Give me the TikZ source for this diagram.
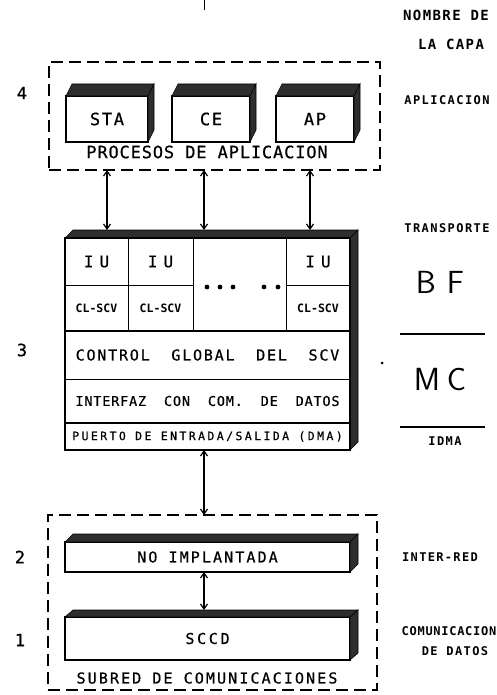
\documentclass[tikz,border=0pt]{standalone}
\usepackage{fontspec}
\usetikzlibrary{arrows.meta,calc}
\newfontfamily\pf{DejaVu Sans Mono}
\newcommand\tx[3]{{\pf\fontsize{#1}{#1}\selectfont\addfontfeatures{LetterSpace=#2,FakeBold=0.6}#3}}
\newcommand\tb[3]{{\pf\bfseries\fontsize{#1}{#1}\selectfont\addfontfeatures{LetterSpace=#2}#3}}
\newcommand\slab[3]{%
  \filldraw[face] (#1.north west) -- ++(#2,-#3) -- ($(#1.north east)+(#2,-#3)$) -- (#1.north east) -- cycle;
  \filldraw[face] (#1.north east) -- ++(#2,-#3) -- ($(#1.south east)+(#2,-#3)$) -- (#1.south east) -- cycle;}
\begin{document}
\begin{tikzpicture}[x=1pt,y=-1pt,
  dashbox/.style={draw, line width=1.3pt, dash pattern=on 12pt off 6pt, inner sep=0pt, outer sep=0pt},
  front/.style={draw, line width=1.2pt, fill=white, inner sep=0pt, outer sep=0pt},
  cell/.style={draw, line width=0.9pt, inner sep=0pt, outer sep=0pt},
  face/.style={fill=black!82, draw=black, line width=0.6pt},
  biarrow/.style={{Straight Barb[length=5pt,width=7pt]}-{Straight Barb[length=5pt,width=7pt]}, line width=1.2pt},
  dot/.style={circle, fill=black, inner sep=0pt, minimum size=4.8pt},
  rule/.style={line width=1.2pt}]
\useasboundingbox (0,0) rectangle (496,695);

% stray tick at the top
\coordinate (tk1) at (204,0);
\coordinate (tk2) at (204,10);
\draw[line width=1pt] (tk1) -- (tk2);

% header
\node (hdr1) at (446,15) {\tb{14}{10}{NOMBRE DE}};
\node (hdr2) at (451,44) {\tb{14}{10}{LA CAPA}};

% layer 4
\node[dashbox, minimum width=331pt, minimum height=108pt] (app) at (214.5,116) {};
\node[front, minimum width=82pt, minimum height=46pt] (sta) at (107,119) {\tx{17}{10}{STA}};
\node[front, minimum width=78pt, minimum height=46pt] (ce) at (211,119) {\tx{17}{10}{CE}};
\node[front, minimum width=78pt, minimum height=46pt] (ap) at (315,119) {\tx{17}{10}{AP}};
\slab{sta}{6}{12}
\slab{ce}{6}{12}
\slab{ap}{6}{12}
\node (papp) at (207,152) {\tx{17}{5}{PROCESOS DE APLICACION}};
\node (n4) at (22,93) {\tx{17}{0}{4}};
\node (l4) at (447,100) {\tb{12}{12}{APLICACION}};

% layer 3 block
\node[front, minimum width=285pt, minimum height=212pt, line width=1.5pt] (blk) at (207.5,344) {};
\slab{blk}{8}{8}
\node[cell, minimum width=63pt, minimum height=47pt] (iu1) at (96.5,261.5) {\tx{16}{0}{I\hspace{6pt}U}};
\node[cell, minimum width=65pt, minimum height=47pt] (iu2) at (160.5,261.5) {\tx{16}{0}{I\hspace{6pt}U}};
\node[cell, minimum width=64pt, minimum height=47pt] (iu4) at (318,261.5) {\tx{16}{0}{I\hspace{6pt}U}};
\node[cell, minimum width=63pt, minimum height=46pt] (cl1) at (96.5,308) {\tb{11.5}{0}{CL-SCV}};
\node[cell, minimum width=65pt, minimum height=46pt] (cl2) at (160.5,308) {\tb{11.5}{0}{CL-SCV}};
\node[cell, minimum width=64pt, minimum height=46pt] (cl4) at (318,308) {\tb{11.5}{0}{CL-SCV}};
\node[cell, minimum width=93pt, minimum height=93pt] (dc) at (239.5,284.5) {};
\node[dot] (d1) at (207,287) {};
\node[dot] (d2) at (220,287) {};
\node[dot] (d3) at (233,287) {};
\node[dot] (d4) at (264,287) {};
\node[dot] (d5) at (278,287) {};
\node[cell, minimum width=285pt, minimum height=48pt] (cg) at (207.5,355) {\tx{15}{12}{CONTROL\ \ GLOBAL\ \ DEL\ \ SCV}};
\node[cell, minimum width=285pt, minimum height=44pt] (ifz) at (207.5,401) {\tx{13.5}{6}{INTERFAZ\ \ CON\ \ COM.\ \ DE\ \ DATOS}};
\node[cell, minimum width=285pt, minimum height=27pt] (pu) at (207.5,436.5) {\tx{11.5}{21}{PUERTO DE ENTRADA/SALIDA (DMA)}};
\draw[line width=2.6pt] (cg.north west) -- (cg.north east);
\draw[line width=2.6pt] (pu.north west) -- (pu.north east);
\draw[line width=1.5pt] (blk.north west) rectangle (blk.south east);
\node (n3) at (22,350) {\tx{17}{0}{3}};
\node (l3) at (447,228) {\tb{12}{12}{TRANSPORTE}};

% arrows layer 4 <-> 3
\coordinate (t1) at (107,230);
\coordinate (t2) at (204,230);
\coordinate (t3) at (310,230);
\draw[biarrow] (app.south -| t1) -- (t1);
\draw[biarrow] (app.south -| t2) -- (t2);
\draw[biarrow] (app.south -| t3) -- (t3);

% right side BF / MC
\node (bf) at (440,282) {\fontsize{32}{32}\selectfont\sffamily B\hspace{11pt}F};
\coordinate (r1a) at (400,334);
\coordinate (r1b) at (485,334);
\draw[rule] (r1a) -- (r1b);
\node (mc) at (440,380) {\fontsize{32}{32}\selectfont\sffamily M\hspace{7pt}C};
\coordinate (r2a) at (400,427);
\coordinate (r2b) at (485,427);
\draw[rule] (r2a) -- (r2b);
\node (idma) at (445,441) {\tb{12}{12}{IDMA}};
\node[circle, fill=black, inner sep=0pt, minimum size=3pt] (spk) at (382,363) {};

% layers 2 and 1
\node[dashbox, minimum width=329pt, minimum height=175pt] (sub) at (212.5,602.5) {};
\coordinate (t5) at (204,515);
\draw[biarrow] (blk.south -| t5) -- (t5);
\node[front, minimum width=285pt, minimum height=30pt] (noimp) at (207.5,557) {\tx{15}{14}{NO IMPLANTADA}};
\slab{noimp}{8}{8}
\node[front, minimum width=285pt, minimum height=43pt] (sccd) at (207.5,638.5) {\tx{15}{18}{SCCD}};
\slab{sccd}{8}{7}
\coordinate (t6) at (204,610);
\draw[biarrow] (noimp.south -| t6) -- (t6);
\node (subt) at (207,678) {\tx{15}{14}{SUBRED DE COMUNICACIONES}};
\node (n2) at (20,557) {\tx{17}{0}{2}};
\node (n1) at (20,640) {\tx{17}{0}{1}};
\node (l2) at (440,557) {\tb{12}{11}{INTER-RED}};
\node (l1a) at (449,631) {\tb{12}{6}{COMUNICACION}};
\node (l1b) at (455,651) {\tb{12}{12}{DE DATOS}};
\end{tikzpicture}
\end{document}
